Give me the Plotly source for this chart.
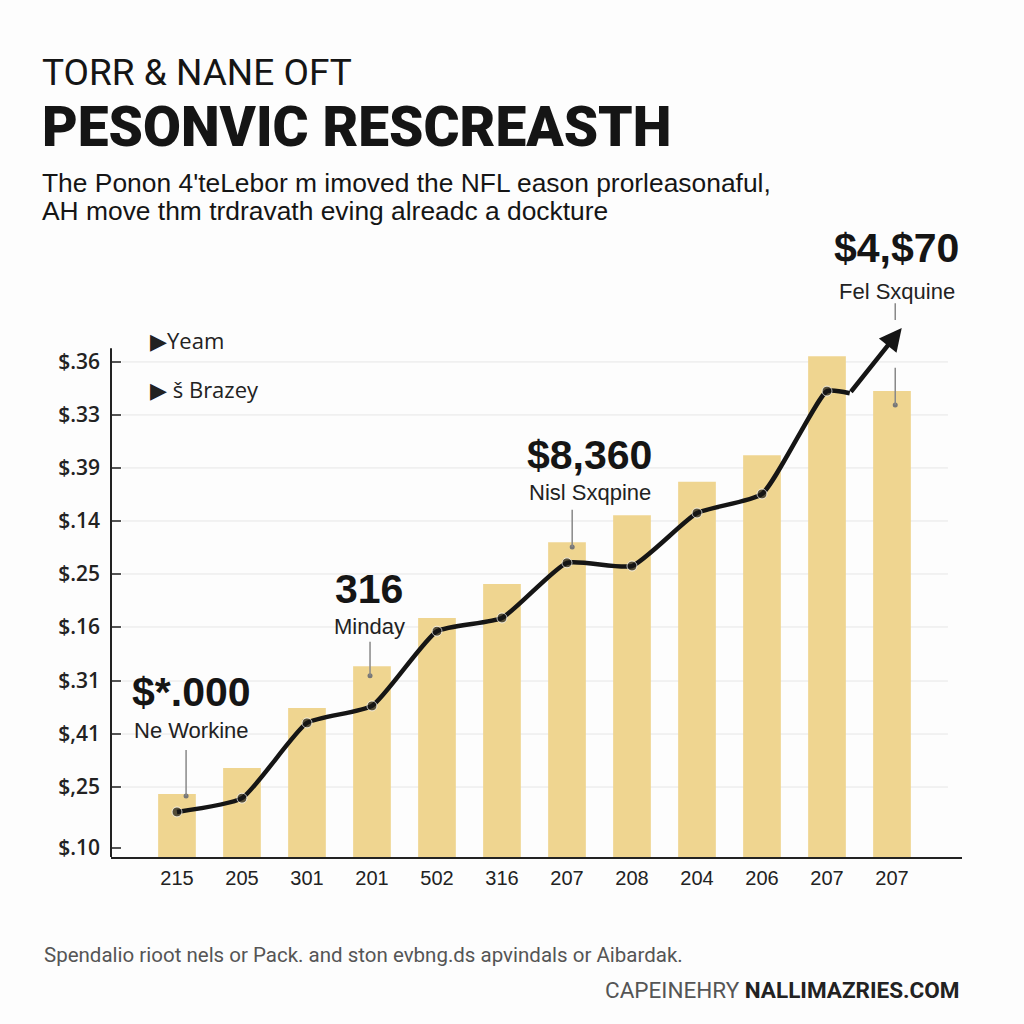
import plotly.graph_objects as go

# ---------------- data ----------------
categories = ["215", "205", "301", "201", "502", "316", "207", "208", "204", "206", "207", "207"]
bar_values = [1.19, 1.68, 2.81, 3.60, 4.51, 5.15, 5.94, 6.45, 7.08, 7.58, 9.45, 8.79]
line_x = [0, 1, 2, 3, 4, 5, 6, 7, 8, 9, 10, 10.35]
line_values = [0.85, 1.11, 2.53, 2.85, 4.26, 4.51, 5.55, 5.49, 6.49, 6.85, 8.79, 8.75]
arrow_tip_x = 11.15
arrow_tip_y = 9.98
y_tick_values = [0.17, 1.32, 2.32, 3.32, 4.34, 5.34, 6.34, 7.34, 8.34, 9.34]
y_tick_labels = ["$.10", "$,25", "$,41", "$.31", "$.16", "$.25", "$.14", "$.39", "$.33", "$.36"]

callout_big = ["$*.000", "316", "$8,360"]
callout_small = ["Ne Workine", "Minday", "Nisl Sxqpine"]
callout_x = [0.23, 2.96, 6.35]
callout_big_y = [3.11, 5.06, 7.58]
callout_small_y = [2.38, 4.34, 6.87]
pin_x = [0.14, 2.97, 6.08]
pin_top = [2.02, 4.06, 6.55]
pin_bottom = [1.15, 3.42, 5.85]

BAR_COLOR = "#EFD590"
DARK = "#151515"

fig = go.Figure()

fig.add_trace(go.Bar(
    x=list(range(len(categories))), y=bar_values,
    marker=dict(color=BAR_COLOR, line=dict(width=0)),
    width=0.58, showlegend=False, hoverinfo="skip",
))

marker_sizes = [10] * (len(line_x) - 1) + [0]
fig.add_trace(go.Scatter(
    x=line_x, y=line_values, mode="lines+markers",
    line=dict(color=DARK, width=4.5, shape="spline", smoothing=0.5),
    marker=dict(color=DARK, size=marker_sizes),
    showlegend=False, hoverinfo="skip",
))

# pin dots
fig.add_trace(go.Scatter(
    x=pin_x + [11.05], y=pin_bottom + [8.53], mode="markers",
    marker=dict(color="#777777", size=5), showlegend=False,
    hoverinfo="skip", cliponaxis=False,
))

shapes = []
# gridlines (all ticks except the bottom one, which sits on the baseline)
for v in y_tick_values[1:]:
    shapes.append(dict(type="line", xref="paper", yref="y", x0=0.013, x1=0.9835, y0=v, y1=v,
                       line=dict(color="#E6E6E6", width=1), layer="below"))
for px_, t, b in zip(pin_x, pin_top, pin_bottom):
    shapes.append(dict(type="line", xref="x", yref="y", x0=px_, x1=px_, y0=t, y1=b,
                       line=dict(color="#888888", width=1.5)))
shapes.append(dict(type="line", xref="x", yref="y", x0=11.05, x1=11.05, y0=10.45, y1=10.13,
                   line=dict(color="#888888", width=1.5)))
shapes.append(dict(type="line", xref="x", yref="y", x0=11.05, x1=11.05, y0=9.23, y1=8.53,
                   line=dict(color="#888888", width=1.5)))
# left axis line
shapes.append(dict(type="line", xref="paper", yref="y", x0=0, x1=0, y0=0, y1=9.6,
                   line=dict(color="#222222", width=2)))

annotations = []
# arrow end of the line
annotations.append(dict(x=arrow_tip_x, y=arrow_tip_y, ax=line_x[-1], ay=line_values[-1],
                        xref="x", yref="y", axref="x", ayref="y", text="",
                        showarrow=True, arrowhead=2, arrowsize=1.0, arrowwidth=4.5,
                        arrowcolor=DARK))

BIG_FONT = dict(family="Liberation Sans", size=41, color=DARK, weight=900)
SMALL_FONT = dict(family="Liberation Sans", size=22, color="#222222")

for t, x, y in zip(callout_big, callout_x, callout_big_y):
    annotations.append(dict(x=x, y=y, xref="x", yref="y", text=t, showarrow=False,
                            xanchor="center", yanchor="middle", font=BIG_FONT))
for t, x, y in zip(callout_small, callout_x, callout_small_y):
    annotations.append(dict(x=x, y=y, xref="x", yref="y", text=t, showarrow=False,
                            xanchor="center", yanchor="middle", font=SMALL_FONT))

annotations.append(dict(x=0.9236, y=1.093, xref="paper", yref="paper", text="$4,$70",
                        showarrow=False, xanchor="center", yanchor="middle", font=BIG_FONT))
annotations.append(dict(x=0.9236, y=1.016, xref="paper", yref="paper", text="Fel Sxquine",
                        showarrow=False, xanchor="center", yanchor="middle", font=SMALL_FONT))

# legend-like labels
annotations.append(dict(x=0.0435, y=0.928, xref="paper", yref="paper", text="▶Yeam",
                        xanchor="left", yanchor="middle", showarrow=False,
                        font=dict(family="Open Sans", size=22, color="#222222")))
annotations.append(dict(x=0.0435, y=0.840, xref="paper", yref="paper", text="▶ š Brazey",
                        xanchor="left", yanchor="middle", showarrow=False,
                        font=dict(family="Open Sans", size=22, color="#222222")))

# titles
annotations.append(dict(x=-0.0834, y=1.409, xref="paper", yref="paper", text="TORR &amp; NANE OFT",
                        xanchor="left", yanchor="middle", showarrow=False,
                        font=dict(family="Roboto", size=37, color=DARK)))
annotations.append(dict(x=-0.0834, y=1.3106, xref="paper", yref="paper", text="PESONVIC RESCREASTH",
                        xanchor="left", yanchor="middle", showarrow=False,
                        font=dict(family="Roboto", size=55, color=DARK, weight=900)))
annotations.append(dict(x=-0.0834, y=1.210, xref="paper", yref="paper",
                        text="The Ponon 4'teLebor m imoved the NFL eason prorleasonaful,",
                        xanchor="left", yanchor="middle", showarrow=False,
                        font=dict(family="Liberation Sans", size=26.4, color=DARK)))
annotations.append(dict(x=-0.0834, y=1.160, xref="paper", yref="paper",
                        text="AH move thm trdravath eving alreadc a dockture",
                        xanchor="left", yanchor="middle", showarrow=False,
                        font=dict(family="Liberation Sans", size=26.4, color=DARK)))

# footer
annotations.append(dict(x=-0.081, y=-0.176, xref="paper", yref="paper",
                        text="Spendalio rioot nels or Pack. and ston evbng.ds apvindals or Aibardak.",
                        xanchor="left", yanchor="middle", showarrow=False,
                        font=dict(family="Roboto", size=20.5, color="#555555")))
annotations.append(dict(x=1.0, y=-0.239, xref="paper", yref="paper",
                        text="<span style='color:#555555'>CAPEINEHRY</span> <b>NALLIMAZRIES.COM</b>",
                        xanchor="right", yanchor="middle", showarrow=False,
                        font=dict(family="Roboto", size=22.5, color="#222222")))

fig.update_layout(
    width=1024, height=1024,
    margin=dict(l=111, r=62, t=300, b=167),
    paper_bgcolor="#FDFDFD", plot_bgcolor="#FDFDFD",
    shapes=shapes, annotations=annotations,
    bargap=0.4,
    xaxis=dict(
        range=[-1.015, 12.077], tickvals=list(range(len(categories))), ticktext=categories,
        showgrid=False, zeroline=False, showline=True, linecolor="#222222", linewidth=2,
        ticks="", tickfont=dict(family="Liberation Sans", size=20, color="#222222"),
        ticklabelstandoff=2, fixedrange=True,
    ),
    yaxis=dict(
        range=[0, 10.509], tickvals=y_tick_values, ticktext=y_tick_labels,
        showgrid=False, zeroline=False, showline=False,
        ticks="inside", ticklen=10, tickwidth=2, tickcolor="#555555",
        tickfont=dict(family="Open Sans", size=21, color="#222222", weight=600),
        ticklabelstandoff=10, fixedrange=True,
    ),
)

fig.write_html("out.html", config={"displayModeBar": False},
               post_script="document.body.style.margin='0';")
